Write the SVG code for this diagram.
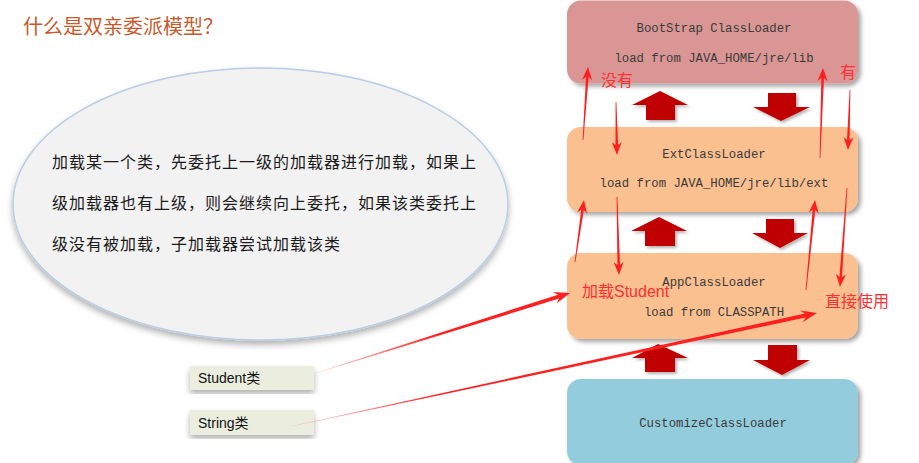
<svg xmlns="http://www.w3.org/2000/svg" width="919" height="463" viewBox="0 0 919 463">
<defs>
<style>
.mono{font-family:"Liberation Mono","DejaVu Sans Mono",monospace;font-size:12.3px;fill:#3a3a3a;text-anchor:middle}
.cn{font-family:"Noto Sans CJK SC",sans-serif}
.lbl{font-family:"Liberation Sans","Noto Sans CJK SC",sans-serif;font-size:16px;fill:#ff3030}
.tag{font-family:"Liberation Sans","Noto Sans CJK SC",sans-serif;font-size:14px;fill:#111}
.blk{fill:#c00000;filter:url(#sh2)}
.red{fill:#ff1f1f}
</style>
<filter id="sh" x="-10%" y="-10%" width="130%" height="140%">
<feDropShadow dx="3" dy="3" stdDeviation="2" flood-color="#000" flood-opacity="0.35"/>
</filter>
<filter id="sh2" x="-20%" y="-20%" width="150%" height="150%">
<feDropShadow dx="2" dy="2" stdDeviation="1.5" flood-color="#000" flood-opacity="0.3"/>
</filter>
<filter id="she" x="-5%" y="-5%" width="115%" height="120%">
<feDropShadow dx="0" dy="4" stdDeviation="3" flood-color="#000" flood-opacity="0.3"/>
</filter>
<linearGradient id="g1" gradientUnits="userSpaceOnUse" x1="316" y1="373" x2="440" y2="334">
<stop offset="0" stop-color="#ff1f1f" stop-opacity="0.15"/>
<stop offset="1" stop-color="#ff1f1f"/>
</linearGradient>
<linearGradient id="g2" gradientUnits="userSpaceOnUse" x1="293" y1="426" x2="440" y2="394">
<stop offset="0" stop-color="#ff1f1f" stop-opacity="0.15"/>
<stop offset="1" stop-color="#ff1f1f"/>
</linearGradient>
</defs>
<rect width="919" height="463" fill="#ffffff"/>

<g id="title">
<text x="23" y="34" class="cn" font-size="20" fill="#c8592a">什么是双亲委派模型？</text>
</g>

<g id="note">
<ellipse cx="260.5" cy="204" rx="247.5" ry="136" fill="#f2f2f2" stroke="#b9cde5" stroke-width="1.5" filter="url(#she)"/>
<text class="cn" font-size="16" letter-spacing="1" fill="#1a1a1a">
<tspan x="52" y="168">加载某一个类，先委托上一级的加载器进行加载，如果上</tspan>
<tspan x="52" y="209">级加载器也有上级，则会继续向上委托，如果该类委托上</tspan>
<tspan x="52" y="250">级没有被加载，子加载器尝试加载该类</tspan>
</text>
</g>

<g id="bootstrap">
<rect x="567" y="0.5" width="291" height="83" rx="14" fill="#d99694" filter="url(#sh)"/>
<text x="714" y="32" class="mono">BootStrap ClassLoader</text>
<text x="714" y="62" class="mono">load from JAVA_HOME/jre/lib</text>
</g>
<g id="ext">
<rect x="567" y="127" width="291" height="85" rx="14" fill="#fac090" filter="url(#sh)"/>
<text x="714" y="158" class="mono">ExtClassLoader</text>
<text x="714" y="187" class="mono">load from JAVA_HOME/jre/lib/ext</text>
</g>
<g id="app">
<rect x="567" y="253" width="291" height="86" rx="14" fill="#fac090" filter="url(#sh)"/>
<text x="714" y="286" class="mono">AppClassLoader</text>
<text x="714" y="316" class="mono">load from CLASSPATH</text>
</g>
<g id="customize">
<rect x="567" y="379" width="291" height="86" rx="14" fill="#93cddd" filter="url(#sh)"/>
<text x="713" y="427" class="mono">CustomizeClassLoader</text>
</g>

<g id="student">
<rect x="190" y="366" width="124" height="24" fill="#ebeedf" filter="url(#she)"/>
<text x="198" y="383" class="tag">Student类</text>
</g>
<g id="string">
<rect x="190" y="410" width="124" height="25" fill="#ebeedf" filter="url(#she)"/>
<text x="198" y="428" class="tag">String类</text>
</g>

<g id="connectors">
<!-- block arrows -->
<path class="blk" d="M660,91 L688,105 L675,105 L675,120 L646,120 L646,105 L632,105 Z"/>
<path class="blk" d="M768,93 L796,93 L796,107 L810,107 L781,121 L753,107 L768,107 Z"/>
<path class="blk" d="M659,217 L687,231 L675,231 L675,246 L645,246 L645,231 L631,231 Z"/>
<path class="blk" d="M766,219 L794,219 L794,233 L808,233 L780,248 L752,233 L766,233 Z"/>
<path class="blk" d="M658,344 L688,358 L675,358 L675,372 L645,372 L645,358 L632,358 Z"/>
<path class="blk" d="M768,345 L797,345 L797,360 L810,360 L782,375 L753,360 L768,360 Z"/>
<!-- red thin arrows -->
<path class="red" d="M575.4,262.06 L583.85,210.09 L587.08,213.59 L584,200 L577.18,212.15 L581.27,209.71 L574.6,261.94 Z"/>
<path class="red" d="M583.4,140.03 L588.62,77.07 L592.1,80.31 L588,67 L582.12,79.63 L586.02,76.89 L582.6,139.97 Z"/>
<path class="red" d="M615.6,102.01 L615.51,145.02 L611.75,142.09 L617,155 L621.75,141.91 L618.11,144.98 L616.4,101.99 Z"/>
<path class="red" d="M616.6,197.01 L617.44,265.03 L613.67,262.13 L619,275 L623.67,261.87 L620.04,264.97 L617.4,196.99 Z"/>
<path class="red" d="M820.4,158.01 L823.97,78.03 L827.57,81.16 L823,68 L817.57,80.82 L821.37,77.95 L819.6,157.99 Z"/>
<path class="red" d="M849.6,89.99 L847.03,139.97 L843.43,136.84 L848,150 L853.43,137.18 L849.63,140.05 L850.4,90.01 Z"/>
<path class="red" d="M806.4,290.04 L815.3,210.08 L818.69,213.44 L815,200 L808.74,212.44 L812.71,209.82 L805.6,289.96 Z"/>
<path class="red" d="M846.6,187.97 L839.41,276.94 L835.93,273.68 L840,287 L845.91,274.38 L842.01,277.12 L847.4,188.03 Z"/>
<path fill="url(#g1)" d="M316.09,373.29 L559.15,298.51 L556.54,303.53 L570,293 L552.94,292.09 L557.95,294.69 L315.91,372.71 Z"/>
<path fill="url(#g2)" d="M293.06,426.29 L805.69,317.49 L802.62,322.24 L817,313 L800.1,310.5 L804.85,313.57 L292.94,425.71 Z"/>
</g>

<g id="labels">
<text x="601" y="86" class="lbl">没有</text>
<text x="840" y="78" class="lbl">有</text>
<text x="582" y="297" class="lbl">加载Student</text>
<text x="825" y="307" class="lbl">直接使用</text>
</g>
</svg>
